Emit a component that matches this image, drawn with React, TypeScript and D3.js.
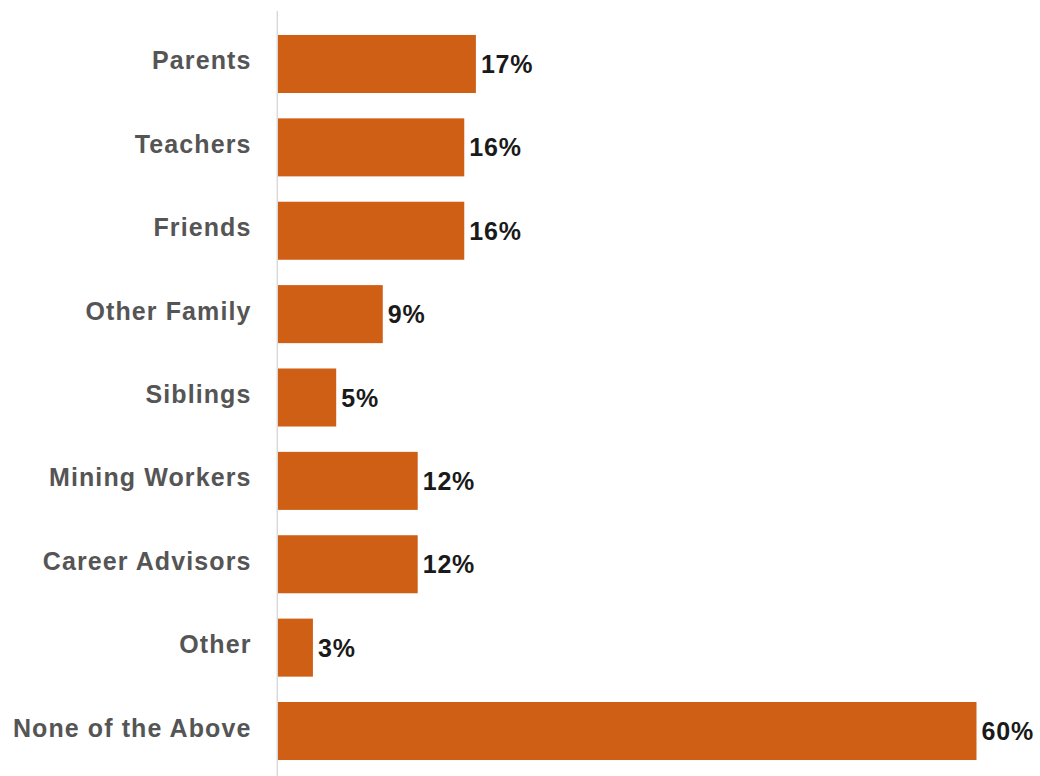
import React from "react";
import * as d3 from "d3";

const categories = [
  "Parents",
  "Teachers",
  "Friends",
  "Other Family",
  "Siblings",
  "Mining Workers",
  "Career Advisors",
  "Other",
  "None of the Above",
];
const values = [17, 16, 16, 9, 5, 12, 12, 3, 60];
const xDomainMax = 60;

const W = 1040;
const H = 776;
const BAR_COLOR = "#D05F16";

export default function App() {
  const y = d3
    .scaleBand<string>()
    .domain(categories)
    .range([22.3, 772.7])
    .paddingInner(0.304)
    .paddingOuter(0.152);
  const x = d3.scaleLinear().domain([0, xDomainMax]).range([278, 976.5]);
  const bw = y.bandwidth();

  return (
    <svg
      width={W}
      height={H}
      style={{ position: "absolute", left: 0, top: 0, background: "#fff" }}
      fontFamily="'Liberation Sans', Arial, Helvetica, sans-serif"
    >
      <line x1={277.3} x2={277.3} y1={11} y2={H} stroke="#d9d9d9" strokeWidth={1.5} />
      {categories.map((c, i) => {
        const top = y(c)!;
        const cy = top + bw / 2;
        const v = values[i];
        return (
          <g key={c}>
            <rect x={x(0)} y={top} width={x(v) - x(0)} height={bw} fill={BAR_COLOR} />
            <text
              x={251.5}
              y={cy + 5.5}
              textAnchor="end"
              fontSize={25}
              fontWeight="bold"
              fill="#555555"
              letterSpacing={1.1}
            >
              {c}
            </text>
            <text
              x={x(v) + 5}
              y={cy + 9}
              fontSize={25}
              fontWeight="bold"
              fill="#1a1a1a"
              letterSpacing={0.8}
            >
              {v}%
            </text>
          </g>
        );
      })}
    </svg>
  );
}
